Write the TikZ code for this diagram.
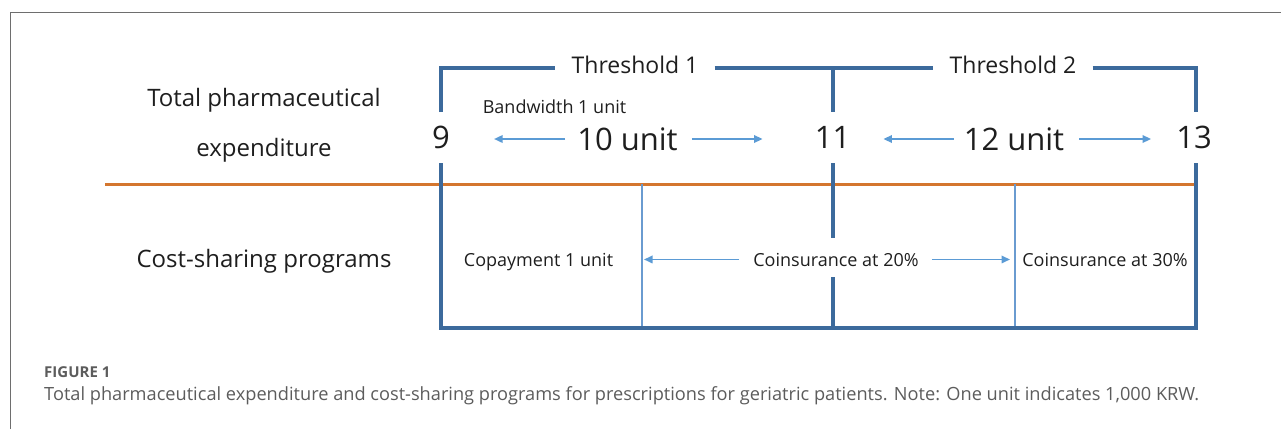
\documentclass[tikz,border=0pt]{standalone}
\usepackage{fontspec}
\setmainfont{Open Sans}
\usetikzlibrary{arrows.meta}

\definecolor{bracketblue}{HTML}{3C6A9C}
\definecolor{thinblue}{HTML}{6A9BD0}
\definecolor{arrowblue}{HTML}{5B9BD5}
\definecolor{axisorange}{HTML}{D4762E}
\definecolor{ink}{HTML}{1E1E1E}
\definecolor{capgray}{HTML}{5C5C5C}
\definecolor{framegray}{HTML}{6E6E6E}

\begin{document}
\begin{tikzpicture}[x=1pt,y=-1pt,
  bracket/.style={draw=bracketblue, line width=4pt},
  divider/.style={draw=thinblue, line width=1.3pt},
  axisline/.style={draw=axisorange, line width=3pt},
  arr/.style={draw=arrowblue, line width=1.7pt, -{Triangle[length=8.5pt,width=7.5pt]}},
  numlabel/.style={font=\fontsize{31}{36}\selectfont, text=ink, inner sep=0pt},
  rowlabel/.style={font=\fontsize{24}{28}\selectfont, text=ink, inner sep=0pt},
  thlabel/.style={font=\fontsize{23}{28}\selectfont, text=ink, inner ysep=0pt, inner xsep=16pt},
  smalllabel/.style={font=\fontsize{18}{21}\selectfont, text=ink, inner sep=0pt},
]
\useasboundingbox (0,0) rectangle (1281,429);

% outer frame (left and top edges)
\draw[framegray, line width=1pt] (10,429) -- (10,12) -- (1281,12);

% bracket corners and gaps
\coordinate (c9top)  at (441,68);
\coordinate (c11top) at (833,68);
\coordinate (c13top) at (1196,68);
\coordinate (c9bot)  at (441,328);
\coordinate (c11bot) at (833,328);
\coordinate (c13bot) at (1196,328);
\coordinate (axisL)  at (105,184);
\coordinate (axisR)  at (1198,184);
\coordinate (d1top)  at (642,184);
\coordinate (d1bot)  at (642,328);
\coordinate (d2top)  at (1015,184);
\coordinate (d2bot)  at (1015,328);

% row labels
\node[rowlabel] (tpe1) at (264,100) {Total pharmaceutical};
\node[rowlabel, anchor=base] (tpe2) at (264,156) {expenditure};
\node[rowlabel, anchor=base] (csp) at (264,267) {Cost-sharing programs};

% numbers and unit labels
\node[numlabel, minimum height=51pt] (n9)  at (441,137.5) {9};
\node[numlabel, minimum height=51pt] (n11) at (832.5,137.5) {11};
\node[numlabel, minimum height=51pt] (n13) at (1194,137.5) {13};
\node[numlabel] (u10) at (627.5,139) {10 unit};
\node[numlabel] (u12) at (1014,139) {12 unit};
\node[smalllabel, anchor=base] (bw) at (554.5,113) {Bandwidth 1 unit};

% threshold labels
\node[thlabel, anchor=base] (th1) at (635,73) {Threshold 1};
\node[thlabel, anchor=base] (th2) at (1013,73) {Threshold 2};

% cost-sharing labels
\node[smalllabel, anchor=base] (cop) at (538.5,266) {Copayment 1 unit};
\node[smalllabel, anchor=base] (co20) at (836,266) {Coinsurance at 20\%};
\node[smalllabel, anchor=base] (co30) at (1105,266) {Coinsurance at 30\%};

% horizontal axis line
\draw[axisline] (axisL) -- (axisR);

% thin dividers
\draw[divider] (d1top) -- (d1bot);
\draw[divider] (d2top) -- (d2bot);

% threshold brackets
\draw[bracket] (441,112) -- (c9top) -- (c9top -| th1.west);
\draw[bracket] (c9top -| th1.east) -- (c9top -| th2.west);
\draw[bracket] (c11top) -- (833,112);
\draw[bracket] (c13top -| th2.east) -- (c13top) -- (1196,112);
\draw[bracket, line join=miter] (441,163) -- (c9bot) -- (c13bot) -- (1196,163);
\draw[bracket] (833,163) -- (833,238);
\draw[bracket] (833,277) -- (c11bot);

% range arrows
\draw[arr, shorten <=12pt, shorten >=44pt] (u10.west) -- (u10.west -| n9.east);
\draw[arr, shorten <=14pt, shorten >=52pt] (u10.east) -- (u10.east -| n11.west);
\draw[arr, shorten <=10pt, shorten >=33pt] (u12.west) -- (u12.west -| n11.east);
\draw[arr, shorten <=15pt, shorten >=25pt] (u12.east) -- (u12.east -| n13.west);
\draw[arr, shorten <=14pt, shorten >=2pt] (co20.west) -- (co20.west -| d1top);
\draw[arr, shorten <=13pt, shorten >=5pt] (co20.east) -- (co20.east -| d2top);

% caption
\node[anchor=base west, inner sep=0pt, text=capgray, font=\bfseries\fontsize{15}{18}\selectfont] (figlabel) at (44,377) {FIGURE 1};
\node[anchor=base west, inner sep=0pt, text=capgray, font=\fontsize{18.2}{21}\selectfont] (caption) at (44,400) {Total pharmaceutical expenditure and cost-sharing programs for prescriptions for geriatric patients. Note: One unit indicates 1,000 KRW.};
\end{tikzpicture}
\end{document}
